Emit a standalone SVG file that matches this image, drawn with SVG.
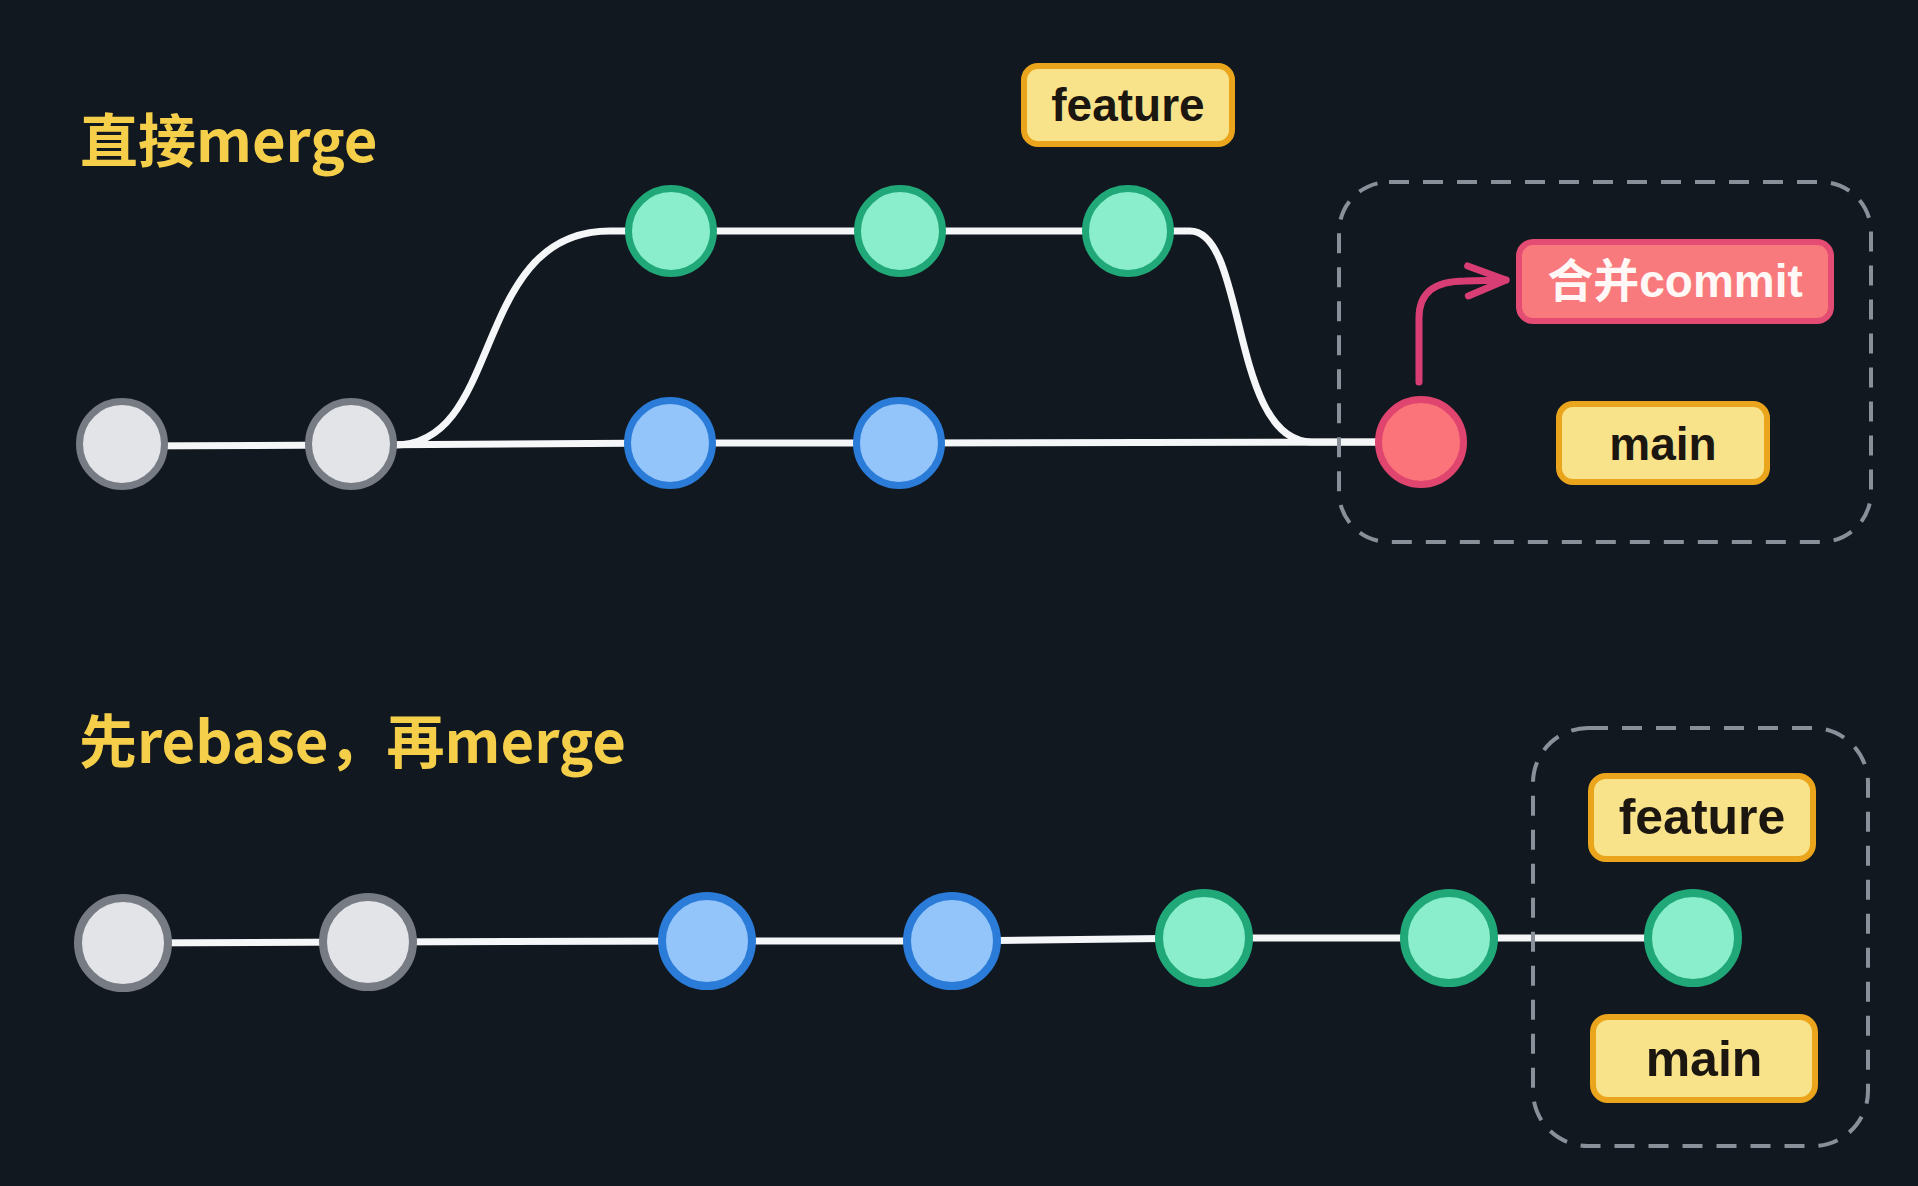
<svg xmlns="http://www.w3.org/2000/svg" width="1918" height="1186" viewBox="0 0 1918 1186">
<style>
.title{font-family:"Noto Sans CJK SC","Noto Sans",sans-serif;font-weight:700;fill:#f6cf4a;font-size:58px}
.lbl{fill:#f8e38b;stroke:#eba51c;stroke-width:6}
.lbltxt{font-family:"Liberation Sans",Arial,sans-serif;font-weight:700;fill:#1c1610;text-anchor:middle}
.gray{fill:#e3e4e8;stroke:#767b84}
.blue{fill:#93c5fb;stroke:#2b7cd8}
.green{fill:#8aedcc;stroke:#20a878}
.red{fill:#fb7479;stroke:#e0456f}
.top{stroke-width:7}
.bot{stroke-width:8}
.edge{fill:none;stroke:#f4f6f8;stroke-width:7;stroke-linecap:round;stroke-linejoin:round}
.box{fill:none;stroke:#8a9099;stroke-width:4;stroke-dasharray:20 14}
</style>
<defs>
<marker id="arr" markerUnits="userSpaceOnUse" viewBox="-4 -20 50 40" markerWidth="50" markerHeight="40" refX="40" refY="0" orient="auto">
<path d="M2 -15 L40 0 L2 15" fill="none" stroke="#d83e74" stroke-width="7" stroke-linecap="round" stroke-linejoin="round"/>
</marker>
</defs>
<rect width="1918" height="1186" fill="#111820"/>

<text class="title" x="80" y="162">直接merge</text>
<text class="title" x="79" y="763">先rebase，再merge</text>

<g id="connectors">
<path class="edge" d="M122 446 L351 445 L670 443 L899 443 L1421 442"/>
<path class="edge" d="M351 445 L395 445 C505 445 470 231 610 231 L1128 231"/>
<path class="edge" d="M1128 231 L1190 231 C1247 231 1230 442 1312 442 L1421 442"/>
<path d="M1419 382 L1419 318 C1419 292 1435 281 1465 281 L1506 280" fill="none" stroke="#d83e74" stroke-width="7" stroke-linecap="round" marker-end="url(#arr)"/>
<path class="edge" d="M123 943 L368 942 L707 941 L952 941 L1204 938 L1449 938 L1693 938"/>
</g>

<rect id="box-top" class="box" x="1339" y="182" width="532" height="360" rx="50"/>
<rect id="box-bottom" class="box" x="1533" y="728" width="335" height="418" rx="55"/>

<g id="top-c1"><circle class="gray top" cx="122" cy="444" r="42.5"/></g>
<g id="top-c2"><circle class="gray top" cx="351" cy="444" r="42.5"/></g>
<g id="top-b1"><circle class="blue top" cx="670" cy="443" r="42.5"/></g>
<g id="top-b2"><circle class="blue top" cx="899" cy="443" r="42.5"/></g>
<g id="top-f1"><circle class="green top" cx="671" cy="231" r="42.5"/></g>
<g id="top-f2"><circle class="green top" cx="900" cy="231" r="42.5"/></g>
<g id="top-f3"><circle class="green top" cx="1128" cy="231" r="42.5"/></g>
<g id="top-merge"><circle class="red top" cx="1421" cy="442" r="42.5"/></g>

<g id="top-feature-label">
<rect class="lbl" x="1024" y="66" width="208" height="78" rx="14"/>
<text class="lbltxt" x="1128" y="121" font-size="46">feature</text>
</g>
<g id="top-commit-label">
<rect x="1519" y="242" width="312" height="79" rx="14" fill="#f87a7c" stroke="#e44c74" stroke-width="6"/>
<text x="1675" y="297" font-size="46" font-family="'Liberation Sans','Noto Sans CJK SC',sans-serif" font-weight="700" fill="#fff8f6" text-anchor="middle">合并commit</text>
</g>
<g id="top-main-label">
<rect class="lbl" x="1559" y="404" width="208" height="78" rx="14"/>
<text class="lbltxt" x="1663" y="460" font-size="46">main</text>
</g>

<g id="bot-c1"><circle class="gray bot" cx="123" cy="943" r="45"/></g>
<g id="bot-c2"><circle class="gray bot" cx="368" cy="942" r="45"/></g>
<g id="bot-b1"><circle class="blue bot" cx="707" cy="941" r="45"/></g>
<g id="bot-b2"><circle class="blue bot" cx="952" cy="941" r="45"/></g>
<g id="bot-f1"><circle class="green bot" cx="1204" cy="938" r="45"/></g>
<g id="bot-f2"><circle class="green bot" cx="1449" cy="938" r="45"/></g>
<g id="bot-f3"><circle class="green bot" cx="1693" cy="938" r="45"/></g>

<g id="bot-feature-label">
<rect class="lbl" x="1591" y="776" width="222" height="83" rx="15"/>
<text class="lbltxt" x="1702" y="834" font-size="50">feature</text>
</g>
<g id="bot-main-label">
<rect class="lbl" x="1593" y="1017" width="222" height="83" rx="15"/>
<text class="lbltxt" x="1704" y="1076" font-size="50">main</text>
</g>
</svg>
